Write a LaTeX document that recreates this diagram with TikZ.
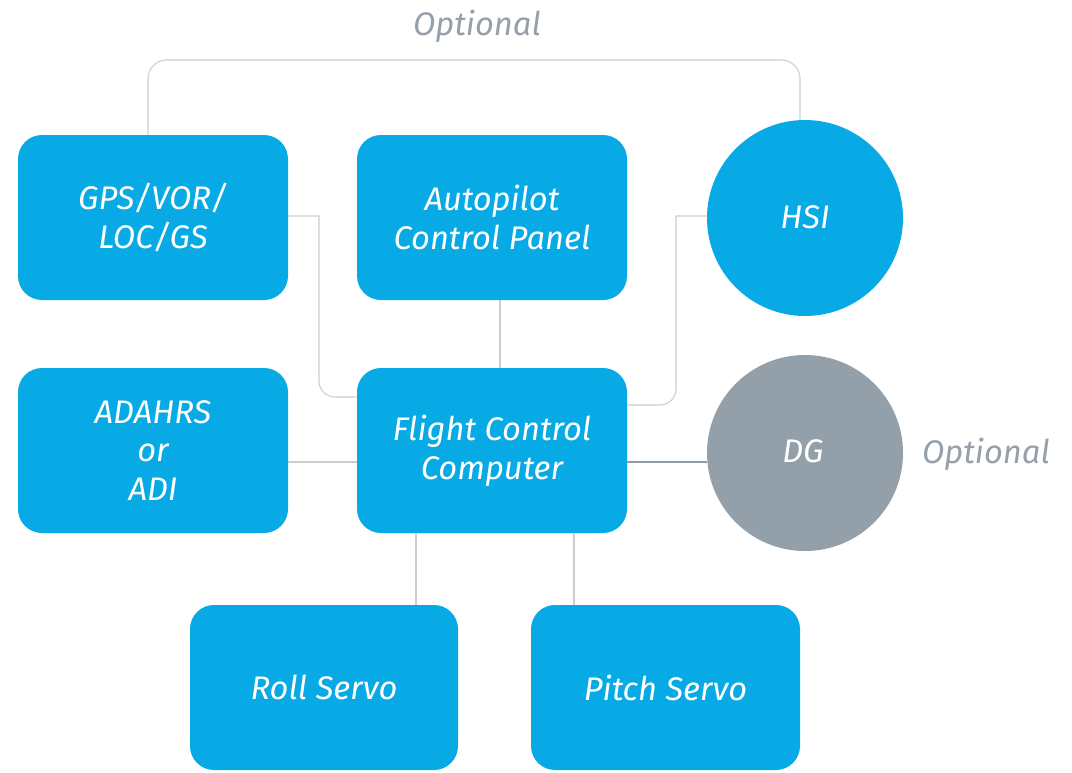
\documentclass[tikz,border=0pt]{standalone}
\usepackage{fontspec}
\setmainfont{Fira Sans}
\definecolor{boxblue}{RGB}{8,170,230}
\definecolor{dggrey}{RGB}{147,160,169}
\definecolor{opttext}{RGB}{150,160,170}
\definecolor{linegrey}{RGB}{205,205,205}
\definecolor{dgline}{RGB}{140,155,165}
\begin{document}
\begin{tikzpicture}[x=0.75pt,y=-0.75pt,
  box/.style={draw=none,fill=boxblue,rounded corners=18pt,minimum width=202.5pt,minimum height=123.75pt,
    text=white,align=center,font=\fontsize{24.5}{29}\selectfont\itshape,inner sep=0pt},
  disc/.style={circle,draw=none,fill=boxblue,minimum size=147pt,inner sep=0pt},
  disctext/.style={text=white,font=\fontsize{24.5}{29}\selectfont\itshape,anchor=base,inner sep=0pt},
  opt/.style={text=opttext,font=\fontsize{24.5}{29}\selectfont\itshape,inner sep=0pt,anchor=base},
  conn/.style={draw=linegrey,line width=0.8pt}]
\useasboundingbox (0,0) rectangle (1072,772);
\fill[white] (0,0) rectangle (1072,772);
\node[box] (gps) at (153,217.5) {GPS/VOR/\\LOC/GS};
\node[box] (ap) at (492,217.5) {Autopilot\\Control Panel};
\node[disc] (hsi) at (805,218) {};
\node[disctext] (hsit) at (805,228) {HSI};
\node[box] (ada) at (153,450.5) {ADAHRS\\or\\ADI};
\node[box] (fcc) at (492,450.5) {Flight Control\\Computer};
\node[disc,fill=dggrey] (dg) at (805,453) {};
\node[disctext] (dgt) at (803,462) {DG};
\node[box,minimum width=201pt] (roll) at (324,687.5) {Roll Servo};
\node[box,minimum width=201.75pt] (pitch) at (665.5,687.5) {Pitch Servo};
\node[opt] (opttop) at (477,35) {Optional};
\node[opt] (optdg) at (986,463) {Optional};
% connectors
\coordinate (c1) at (148,60);
\coordinate (c2) at (800,60);
\draw[conn,rounded corners=14pt] (gps.north -| c1) -- (c1) -- (c2) -- (hsi.north -| c2);
\coordinate (g1) at (319,216);
\coordinate (g2) at (319,397);
\draw[conn] (gps.east |- g1) -- (g1) [rounded corners=12pt] -- (g2) -- (fcc.west |- g2);
\coordinate (h1) at (676,216);
\coordinate (h2) at (676,405);
\draw[conn] (hsi.west |- h1) -- (h1) [rounded corners=12pt] -- (h2) -- (fcc.east |- h2);
\coordinate (a1) at (500,0);
\draw[conn] (ap.south -| a1) -- (fcc.north -| a1);
\coordinate (m1) at (0,462);
\draw[conn] (ada.east |- m1) -- (fcc.west |- m1);
\draw[conn,draw=dgline] (fcc.east |- m1) -- (dg.west |- m1);
\coordinate (r1) at (416,0);
\coordinate (p1) at (574,0);
\draw[conn] (fcc.south -| r1) -- (roll.north -| r1);
\draw[conn] (fcc.south -| p1) -- (pitch.north -| p1);
\end{tikzpicture}
\end{document}
